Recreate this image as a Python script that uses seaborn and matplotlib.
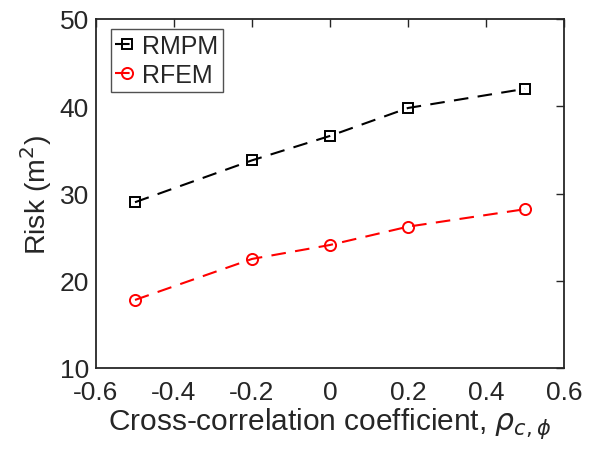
import matplotlib
matplotlib.use("Agg")
import matplotlib.pyplot as plt
import seaborn as sns
import pandas as pd

rho = [-0.5, -0.2, 0.0, 0.2, 0.5]
rmpm = [29.0, 33.8, 36.6, 39.8, 42.0]
rfem = [17.8, 22.5, 24.1, 26.2, 28.2]
x_ticks = [-0.6, -0.4, -0.2, 0, 0.2, 0.4, 0.6]
x_labels = ["-0.6", "-0.4", "-0.2", "0", "0.2", "0.4", "0.6"]
y_ticks = [10, 20, 30, 40, 50]

sns.set_theme(style="white")
plt.rcParams['font.family'] = ['Liberation Sans', 'DejaVu Sans']
plt.rcParams['mathtext.fontset'] = 'dejavusans'

W, H = 591, 456
fig = plt.figure(figsize=(W / 100, H / 100), dpi=100)
L, R, T, B = 96, 564, 20, 369
ax = fig.add_axes([L / W, 1 - B / H, (R - L) / W, (B - T) / H])

df = pd.DataFrame({"x": rho * 2, "y": rmpm + rfem,
                   "method": ["RMPM"] * len(rho) + ["RFEM"] * len(rho)})

for name, color, marker, ms in [("RMPM", "black", "s", 6.8), ("RFEM", "red", "o", 8)]:
    sub = df[df["method"] == name]
    sns.lineplot(data=sub, x="x", y="y", ax=ax, color=color, marker=marker,
                 markersize=ms, markerfacecolor="none", markeredgecolor=color,
                 markeredgewidth=1.4, linewidth=1.5, dashes=False, label=name)
    ax.lines[-1].set_linestyle((0, (7, 4.5)))

ax.set_xlim(-0.6, 0.6)
ax.set_ylim(10, 50)
ax.set_xticks(x_ticks)
ax.set_xticklabels(x_labels)
ax.set_yticks(y_ticks)
ax.tick_params(direction="in", length=6, width=1, top=True, right=True,
               labelsize=19, colors="#262626")
ax.tick_params(axis="x", pad=8.5)
ax.tick_params(axis="y", pad=5)
for s in ax.spines.values():
    s.set_color("#262626")
    s.set_linewidth(1.3)
ax.set_xlabel(r"Cross-correlation coefficient, $\rho_{c,\phi}$", fontsize=21.5, color="#262626", labelpad=1)
ax.set_ylabel(r"Risk (m$^{2}$)", fontsize=20.5, color="#262626", labelpad=4)

leg = ax.legend(loc="upper left", bbox_to_anchor=(15 / (R - L), 1 - 10 / (B - T)),
                fontsize=18, frameon=True, fancybox=False,
                edgecolor="#262626", handlelength=0.9, handletextpad=0.16,
                borderpad=0.18, labelspacing=0.22, borderaxespad=0)
leg.get_frame().set_linewidth(1.0)

fig.savefig("out.png", dpi=100)
